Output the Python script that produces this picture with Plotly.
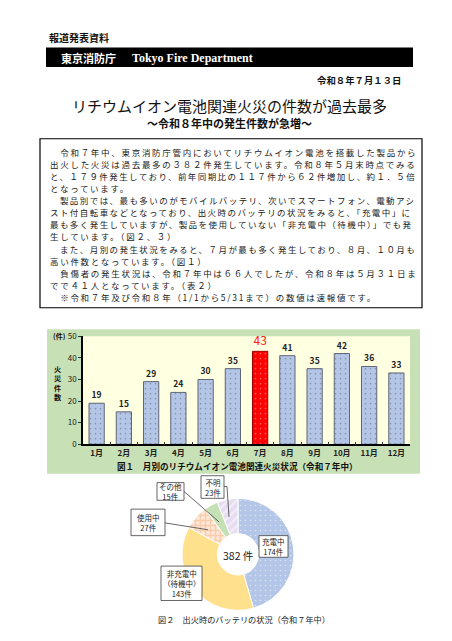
import plotly.graph_objects as go

# the page body keeps its 8px margin, so the figure is drawn 8px in from the corner
PAD = 8
W, H = 452 - 2 * PAD, 641 - 2 * PAD
JP = "Noto Sans CJK JP"

# data
months = ["1月", "2月", "3月", "4月", "5月", "6月", "7月", "8月", "9月", "10月", "11月", "12月"]
fires = [19, 15, 29, 24, 30, 35, 43, 41, 35, 42, 36, 33]
y_ticks = [0, 10, 20, 30, 40, 50]

status_labels = ["充電中", "非充電中（待機中）", "使用中", "その他", "不明"]
status_box_text = ["充電中", "非充電中<br>（待機中）", "使用中", "その他", "不明"]
status_counts = [174, 143, 27, 15, 23]

body_lines = [
    "　令和７年中、東京消防庁管内においてリチウムイオン電池を搭載した製品から",
    "出火した火災は過去最多の３８２件発生しています。令和８年５月末時点でみる",
    "と、１７９件発生しており、前年同期比の１１７件から６２件増加し、約１．５倍",
    "となっています。",
    "　製品別では、最も多いのがモバイルバッテリ、次いでスマートフォン、電動アシ",
    "スト付自転車などとなっており、出火時のバッテリの状況をみると、「充電中」に",
    "最も多く発生していますが、製品を使用していない「非充電中（待機中）」でも発",
    "生しています。（図２、３）",
    "　また、月別の発生状況をみると、７月が最も多く発生しており、８月、１０月も",
    "高い件数となっています。（図１）",
    "　負傷者の発生状況は、令和７年中は６６人でしたが、令和８年は５月３１日ま",
    "でで４１人となっています。（表２）",
    "　※令和７年及び令和８年（1/1から5/31まで）の数値は速報値です。",
]


def fx(x):
    return (x - PAD) / W


def fy(y):
    return 1 - (y - PAD) / H


annotations = []
shapes = []


def note(text, x, y, size, bold=False, color="#111111", xanchor="center", family=JP, **kw):
    if bold:
        text = "<b>" + text + "</b>"
    annotations.append(dict(
        text=text, x=fx(x), y=fy(y), xref="paper", yref="paper",
        xanchor=xanchor, yanchor="middle", showarrow=False,
        font=dict(family=family, size=size, color=color), **kw,
    ))


def rect(x0, y0, x1, y1, fill=None, line_color=None, width=1, layer="below"):
    shapes.append(dict(
        type="rect", xref="paper", yref="paper",
        x0=fx(x0), x1=fx(x1), y0=fy(y1), y1=fy(y0),
        fillcolor=fill or "rgba(0,0,0,0)",
        line=dict(color=line_color or "rgba(0,0,0,0)", width=width if line_color else 0),
        layer=layer,
    ))


def seg(pts, color="#404040", width=0.8):
    path = "M " + " L ".join(f"{fx(a):.5f},{fy(b):.5f}" for a, b in pts)
    shapes.append(dict(type="path", xref="paper", yref="paper", path=path,
                       line=dict(color=color, width=width), layer="above"))


# header
note("報道発表資料", 47, 32, 10, bold=True, xanchor="left")
rect(46, 42, 413, 62, fill="black")
note("東京消防庁", 59, 52.5, 11, bold=True, color="white", xanchor="left")
note("Tokyo Fire Department", 130, 52.5, 12, bold=True, color="white", xanchor="left",
     family="Liberation Serif")
note("令和８年７月１３日", 403, 75, 9.4, bold=True, xanchor="right")
note("リチウムイオン電池関連火災の件数が過去最多", 229, 101, 15)
note("～令和８年中の発生件数が急増～", 230, 119, 11, bold=True)

# body text box: one annotation per line, full lines spaced out to the right edge
rect(40, 135, 422, 307, line_color="black", width=1.2)
BODY_FS, LEFT, RIGHT = 8.5, 47.5, 415
for i, ln in enumerate(body_lines):
    full = i + 1 < len(body_lines) and not body_lines[i + 1].startswith("　")
    ls = (RIGHT - LEFT) / len(ln) - BODY_FS if full else 1.7
    note(f'<span style="letter-spacing:{ls:.2f}px">{ln}</span>', LEFT, 148 + i * 12.35,
         BODY_FS, color="#1a1a1a", xanchor="left")

# figure 1 panel
rect(47, 329, 420, 476, fill="#C8E0B6")
rect(83, 336, 410, 446, fill="#FFFFE2")

top = max(fires)
bar_colors = ["#FF0000" if v == top else "#B4C6E7" for v in fires]
bar_lines = ["#A00000" if v == top else "#5F6675" for v in fires]
dot_colors = ["#FF9A9A" if v == top else "#FFFFFF" for v in fires]
txt_sizes = [12 if v == top else 8.5 for v in fires]
txt_colors = ["#FF2020" if v == top else "#222222" for v in fires]
txt = [str(v) if v == top else f"<b>{v}</b>" for v in fires]

fig = go.Figure()
fig.add_trace(go.Bar(
    x=months, y=fires, width=0.56, text=txt, textposition="outside", cliponaxis=False,
    textfont=dict(family=JP, size=txt_sizes, color=txt_colors),
    marker=dict(color=bar_colors, line=dict(color=bar_lines, width=1),
                pattern=dict(shape=".", fgcolor=dot_colors, size=5, solidity=0.08,
                             fillmode="overlay")),
    xaxis="x", yaxis="y", showlegend=False, hoverinfo="skip",
))

note("(件)", 59, 336, 7, bold=True)
note("火<br>災<br>件<br>数", 58, 384, 7.2, bold=True)
note("図１　月別のリチウムイオン電池関連火災状況（令和７年中）", 237, 468, 8.6, bold=True)

# figure 2 pie
fig.add_trace(go.Pie(
    labels=status_labels, values=status_counts, sort=False, direction="clockwise",
    rotation=0, hole=0.37, textinfo="none", hoverinfo="skip", showlegend=False,
    domain=dict(x=[fx(181), fx(295)], y=[fy(615), fy(501)]),
    marker=dict(
        colors=["#B4C6E7", "#FFE08C", "#FDE9D9", "#C5E0B4", "#E6DCF0"],
        line=dict(color="white", width=1),
        pattern=dict(shape=[".", "", "+", "", "/"],
                     fgcolor=["#FFFFFF", "#FFFFFF", "#F4B183", "#FFFFFF", "#FFFFFF"],
                     size=[5, 6, 5, 6, 6], solidity=[0.08, 0.2, 0.55, 0.2, 0.35],
                     fillmode="overlay"),
    ),
))
note(f"{sum(status_counts)} 件", 238, 559, 10.5, color="#222222")

# leader lines and label boxes
seg([(165, 526), (208, 533)])
seg([(184, 494), (219, 525)])
seg([(224, 489), (227, 489), (229, 520)])
boxes = [
    (259, 539, 288, 561),
    (161, 570, 202, 605),
    (131, 512, 165, 539),
    (157, 485, 184, 503),
    (201, 478, 224, 501),
]
for (x0, y0, x1, y1), lab, n in zip(boxes, status_box_text, status_counts):
    rect(x0, y0, x1, y1, fill="white", line_color="#404040", width=0.8, layer="above")
    note(f"{lab}<br>{n}件", (x0 + x1) / 2, (y0 + y1) / 2, 7.5, color="#222222")

note("図２　出火時のバッテリの状況（令和７年中）", 244, 624, 8.2, color="#222222")

fig.update_layout(
    width=W, height=H, margin=dict(l=0, r=0, t=0, b=0),
    paper_bgcolor="white", plot_bgcolor="rgba(0,0,0,0)",
    xaxis=dict(domain=[fx(83), fx(410)], anchor="y", range=[-0.5, 11.5],
               showline=True, linecolor="black", linewidth=1.5,
               ticks="inside", tickson="boundaries", ticklen=3, tickcolor="#333333",
               tickfont=dict(family=JP, size=8, color="#222222"),
               showgrid=False, fixedrange=True),
    yaxis=dict(domain=[fy(446), fy(336)], anchor="x", range=[0, 50],
               tickvals=y_ticks, showline=True, linecolor="black", linewidth=1.5,
               ticks="outside", ticklen=3, tickcolor="#333333",
               tickfont=dict(family=JP, size=8, color="#222222"),
               showgrid=False, zeroline=False, fixedrange=True),
    annotations=annotations, shapes=shapes,
    font=dict(family=JP),
)
fig.update_xaxes(tickprefix="<b>", ticksuffix="</b>")
fig.update_yaxes(tickprefix="<b>", ticksuffix="</b>")

fig.write_html("out.html")
